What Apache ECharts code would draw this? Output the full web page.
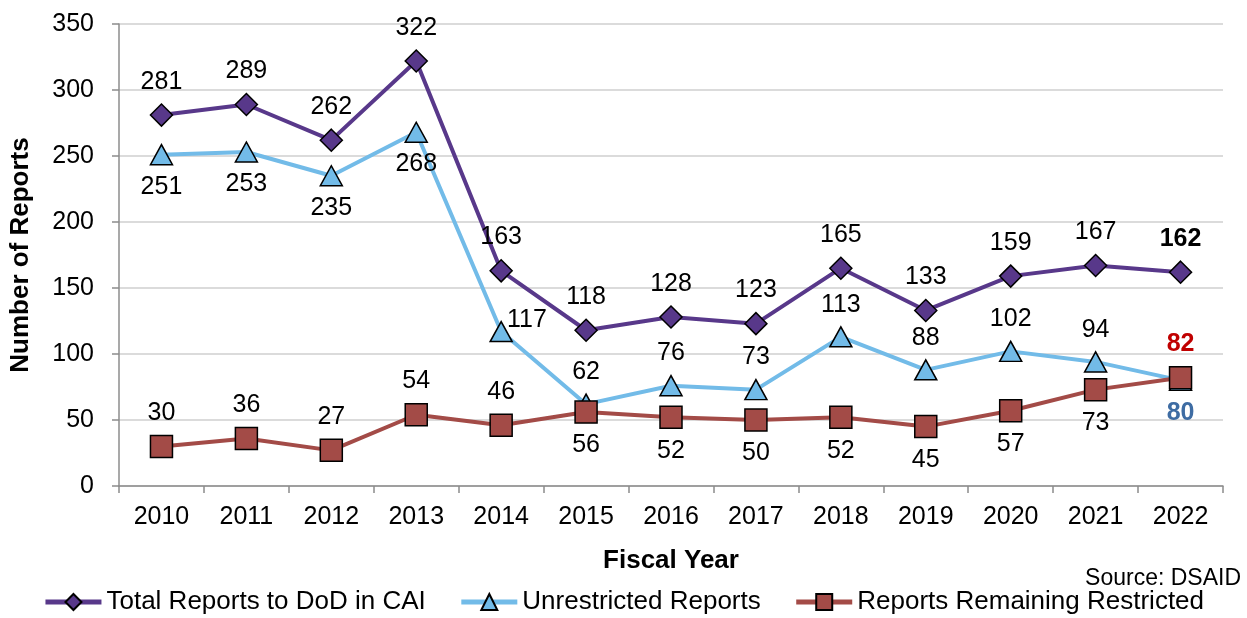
<!DOCTYPE html>
<html>
<head>
<meta charset="utf-8">
<script src="https://cdn.jsdelivr.net/npm/echarts@6/dist/echarts.min.js"></script>
<style>
  html, body { margin: 0; padding: 0; background: #fff; }
  #chart { width: 1247px; height: 618px; }
</style>
</head>
<body>
<div id="chart"></div>
<script>
// fiscal years on the x axis
const years = ['2010', '2011', '2012', '2013', '2014', '2015', '2016', '2017', '2018', '2019', '2020', '2021', '2022'];
// series values
const totalReports = [281, 289, 262, 322, 163, 118, 128, 123, 165, 133, 159, 167, 162];
const unrestricted = [251, 253, 235, 268, 117, 62, 76, 73, 113, 88, 102, 94, 80];
const restricted = [30, 36, 27, 54, 46, 56, 52, 50, 52, 45, 57, 73, 82];
// y ticks
const yTicks = [0, 50, 100, 150, 200, 250, 300, 350];

const FONT = 'Liberation Sans, Arial, sans-serif';
const FS = 25; // 字号

// where each label sits
const totalPos = years.map(() => 'top');
const unrestrictedPos = ['bottom', 'bottom', 'bottom', 'bottom', 'right', 'top', 'top', 'top', 'top', 'top', 'top', 'top', 'bottom'];
const restrictedPos = ['top', 'top', 'top', 'top', 'top', 'bottom', 'bottom', 'bottom', 'bottom', 'bottom', 'bottom', 'bottom', 'top'];

function buildData(values, positions, lastStyle) {
    return values.map(function (v, i) {
        let item = { value: v, label: { position: positions[i] } };
        if (positions[i] === 'right') {
            item.label.distance = 2;
            item.label.offset = [-8, -11];
        }
        if (i === values.length - 1 && lastStyle) {
            Object.assign(item.label, lastStyle);
        }
        return item;
    });
}

let chart = echarts.init(document.getElementById('chart'));

let option = {
    animation: false,
    textStyle: { fontFamily: FONT },
    grid: {
        left: 119,
        right: 24,
        top: 24,
        bottom: 132
    },
    xAxis: {
        type: 'category',
        data: years,
        boundaryGap: true,
        name: 'Fiscal Year',
        nameLocation: 'middle',
        nameGap: 62,
        nameTextStyle: { fontSize: 26, fontWeight: 'bold', color: '#000', fontFamily: FONT },
        axisLine: { lineStyle: { color: '#8c8c8c', width: 1.5 } },
        axisTick: { show: true, length: 7, alignWithLabel: false, lineStyle: { color: '#8c8c8c', width: 1.5 } },
        axisLabel: { fontSize: FS, color: '#000', margin: 19, fontFamily: FONT }
    },
    yAxis: {
        type: 'value',
        min: yTicks[0],
        max: yTicks[yTicks.length - 1],
        interval: 50,
        name: 'Number of Reports',
        nameLocation: 'middle',
        nameGap: 85,
        nameTextStyle: { fontSize: 26, fontWeight: 'bold', color: '#000', fontFamily: FONT },
        axisLine: { show: true, lineStyle: { color: '#8c8c8c', width: 1.5 } },
        axisTick: { show: true, length: 7, lineStyle: { color: '#8c8c8c', width: 1.5 } },
        axisLabel: { fontSize: FS, color: '#000', margin: 25, fontFamily: FONT },
        splitLine: { lineStyle: { color: '#cfcfcf', width: 1.5 } }
    },
    legend: {
        top: 584,
        left: 'center',
        itemWidth: 56,
        itemHeight: 20,
        itemGap: 33,
        lineStyle: { width: 5 },
        textStyle: { fontSize: 26, color: '#000', fontFamily: FONT },
        data: ['Total Reports to DoD in CAI', 'Unrestricted Reports', 'Reports Remaining Restricted']
    },
    graphic: [
        {
            type: 'text',
            right: 6,
            top: 567,
            style: { text: 'Source: DSAID', fontSize: 23, fill: '#000', fontFamily: FONT }
        }
    ],
    series: [
        {
            name: 'Reports Remaining Restricted',
            type: 'line',
            z: 3,
            data: buildData(restricted, restrictedPos, { color: '#c00000', fontWeight: 'bold' }),
            symbol: 'rect',
            symbolSize: 22,
            lineStyle: { color: '#a34b47', width: 4 },
            itemStyle: { color: '#a34b47', borderColor: '#000', borderWidth: 1.5 },
            label: { show: true, fontSize: FS, color: '#000', distance: 9, fontFamily: FONT }
        },
        {
            name: 'Unrestricted Reports',
            type: 'line',
            z: 2,
            data: buildData(unrestricted, unrestrictedPos, { color: '#3e6ca3', fontWeight: 'bold' }),
            symbol: 'triangle',
            symbolSize: [22, 20],
            lineStyle: { color: '#72bbe8', width: 4 },
            itemStyle: { color: '#72bbe8', borderColor: '#000', borderWidth: 1.5 },
            label: { show: true, fontSize: FS, color: '#000', distance: 9, fontFamily: FONT }
        },
        {
            name: 'Total Reports to DoD in CAI',
            type: 'line',
            z: 4,
            data: buildData(totalReports, totalPos, { fontWeight: 'bold' }),
            symbol: 'diamond',
            symbolSize: 22,
            lineStyle: { color: '#58388a', width: 4 },
            itemStyle: { color: '#58388a', borderColor: '#000', borderWidth: 1.5 },
            label: { show: true, fontSize: FS, color: '#000', distance: 9, fontFamily: FONT }
        }
    ]
};

chart.setOption(option);
</script>
</body>
</html>
